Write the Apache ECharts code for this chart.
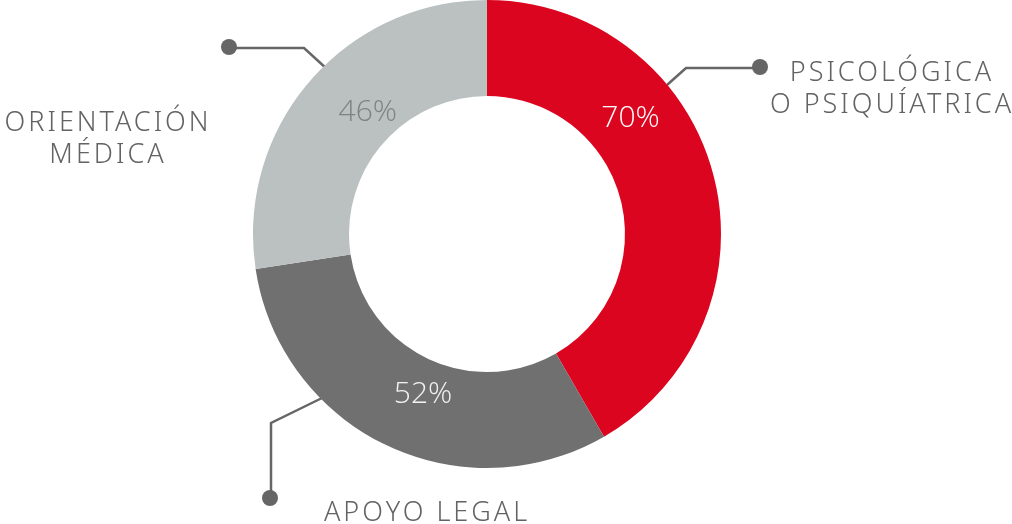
<!DOCTYPE html>
<html><head><meta charset="utf-8">
<script src="https://cdn.jsdelivr.net/npm/echarts@6/dist/echarts.min.js"></script>
<style>html,body{margin:0;padding:0;background:#fff}#c{width:1012px;height:524px}</style>
</head><body><div id="c"></div>
<script>
var categories = ['PSICOLÓGICA\nO PSIQUÍATRICA', 'APOYO LEGAL', 'ORIENTACIÓN\nMÉDICA'];
var values = [70, 52, 46];
var colors = ['#DC0520', '#707070', '#BAC1C0'];
var labelColors = ['#ffffff', '#f2f2f2', '#7d8282'];

// wider tracking for the category captions (canvas letterSpacing)
(function () {
  var proto = CanvasRenderingContext2D.prototype;
  var ft = proto.fillText;
  proto.fillText = function (t, x, y, m) {
    if (this.font && this.font.indexOf('Noto Sans') >= 0) {
      this.letterSpacing = '3px';
    } else {
      this.letterSpacing = '0px';
    }
    return m === undefined ? ft.call(this, t, x, y) : ft.call(this, t, x, y, m);
  };
})();

var chart = echarts.init(document.getElementById('c'));
var lineStyle = { stroke: '#666666', lineWidth: 2.5, fill: null };
var textStyle = { fill: '#636363', fontFamily: 'Noto Sans', fontWeight: 300, fontSize: 27, lineHeight: 32, align: 'center', verticalAlign: 'middle' };
function txt(x, y, s) { return { type: 'text', x: x, y: y, style: Object.assign({ text: s }, textStyle) }; }

chart.setOption({
  animation: false,
  series: [{
    type: 'pie',
    center: [487, 234],
    radius: [138, 234],
    startAngle: 90,
    clockwise: true,
    avoidLabelOverlap: false,
    label: {
      show: true,
      position: 'inside',
      fontFamily: 'Open Sans',
      fontWeight: 300,
      fontSize: 30,
      formatter: function (p) { return p.value + '%'; }
    },
    labelLine: { show: false },
    labelLayout: function (p) {
      if (p.dataIndex === 0) return { dx: -39, dy: -67 };
      if (p.dataIndex === 1) return { dx: 18, dy: -10 };
      if (p.dataIndex === 2) return { dx: 24, dy: 2 };
      return {};
    },
    emphasis: { disabled: true },
    data: values.map(function (v, i) {
      return { name: categories[i], value: v, itemStyle: { color: colors[i] }, label: { color: labelColors[i] } };
    })
  }],
  graphic: [
    { type: 'polyline', shape: { points: [[667, 85], [686, 68], [760, 68]] }, style: lineStyle },
    { type: 'circle', shape: { cx: 760, cy: 67, r: 8 }, style: { fill: '#666666' } },
    { type: 'polyline', shape: { points: [[327, 69], [304, 48], [229, 48]] }, style: lineStyle },
    { type: 'circle', shape: { cx: 229, cy: 47, r: 8 }, style: { fill: '#666666' } },
    { type: 'polyline', shape: { points: [[322, 398], [271, 423], [271, 497]] }, style: lineStyle },
    { type: 'circle', shape: { cx: 270, cy: 498, r: 8 }, style: { fill: '#666666' } },
    txt(892, 89, categories[0]),
    txt(108, 139, categories[2]),
    txt(427, 513, categories[1])
  ]
});
</script></body></html>
